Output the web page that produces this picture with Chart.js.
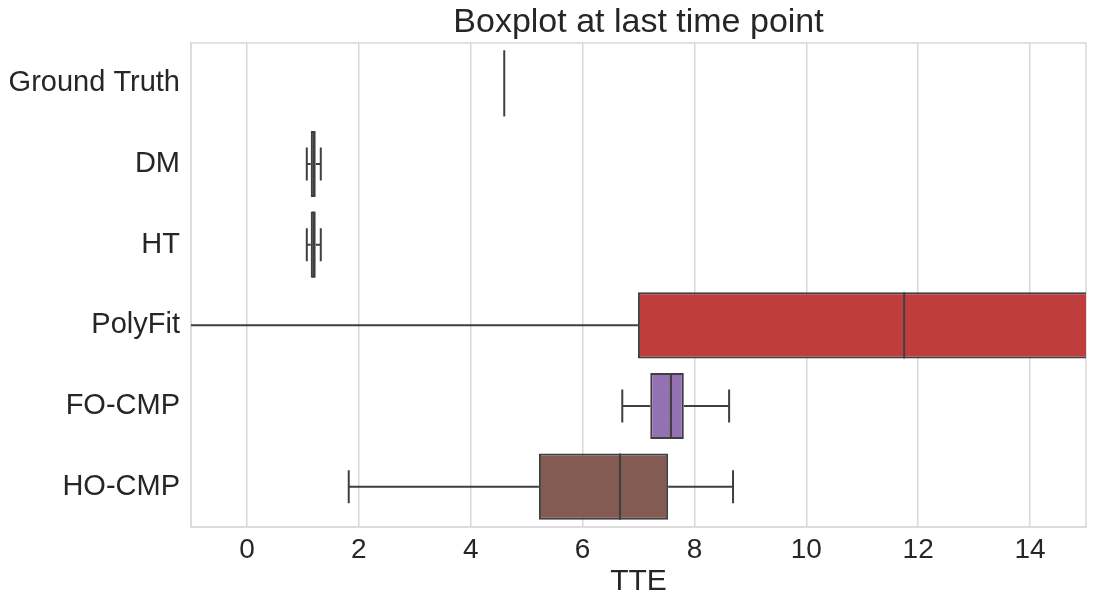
<!DOCTYPE html>
<html>
<head>
<meta charset="utf-8">
<title>Boxplot at last time point</title>
<script src="https://cdn.jsdelivr.net/npm/chart.js@4/dist/chart.umd.min.js"></script>
<style>
  body { margin: 0; background: #fff; }
</style>
</head>
<body>
<canvas id="boxChart" width="1096" height="600"></canvas>
<script>
// values
const categories = ['Ground Truth', 'DM', 'HT', 'PolyFit', 'FO-CMP', 'HO-CMP'];
const whiskerLow = [4.6, 1.07, 1.07, -3.0, 6.71, 1.82];
const q1 = [4.6, 1.14, 1.14, 6.99, 7.21, 5.22];
const median = [4.6, 1.19, 1.19, 11.75, 7.58, 6.67];
const q3 = [4.6, 1.23, 1.23, 17.5, 7.81, 7.53];
const whiskerHigh = [4.6, 1.32, 1.32, 24.0, 8.62, 8.69];
const xTicks = [0, 2, 4, 6, 8, 10, 12, 14];
const boxColors = ['#3e75a6', '#4a4a4a', '#4a4a4a', '#c03d3e', '#9472b2', '#845b53'];

const lineColor = '#3f3f3f';
const gridColor = '#d9d9d9';
const fontFamily = '"Liberation Sans", Arial, Helvetica, sans-serif';

// whiskers, caps and medians drawn from the same scales as the boxes
const whiskerPlugin = {
  id: 'whiskers',
  afterDatasetsDraw(chart) {
    const { ctx, chartArea, scales } = chart;
    const x = scales.x, y = scales.y;
    const bars = chart.getDatasetMeta(0).data;
    ctx.save();
    ctx.beginPath();
    ctx.rect(chartArea.left, chartArea.top, chartArea.right - chartArea.left, chartArea.bottom - chartArea.top);
    ctx.clip();
    ctx.strokeStyle = lineColor;
    ctx.lineWidth = 2;
    categories.forEach((c, i) => {
      const cy = y.getPixelForValue(i);
      const h = bars[i].height;
      const px = v => x.getPixelForValue(v);
      ctx.beginPath();
      ctx.moveTo(px(whiskerLow[i]), cy);
      ctx.lineTo(px(q1[i]), cy);
      ctx.moveTo(px(q3[i]), cy);
      ctx.lineTo(px(whiskerHigh[i]), cy);
      if (whiskerLow[i] !== whiskerHigh[i]) {
        ctx.moveTo(px(whiskerLow[i]), cy - h / 4);
        ctx.lineTo(px(whiskerLow[i]), cy + h / 4);
        ctx.moveTo(px(whiskerHigh[i]), cy - h / 4);
        ctx.lineTo(px(whiskerHigh[i]), cy + h / 4);
      }
      ctx.moveTo(px(median[i]), cy - h / 2);
      ctx.lineTo(px(median[i]), cy + h / 2);
      ctx.stroke();
    });
    ctx.restore();
  }
};

// light frame round the plot area, like the seaborn axes
const framePlugin = {
  id: 'frame',
  beforeDatasetsDraw(chart) {
    const { ctx, chartArea } = chart;
    ctx.save();
    ctx.strokeStyle = gridColor;
    ctx.lineWidth = 1.5;
    ctx.strokeRect(chartArea.left, chartArea.top, chartArea.right - chartArea.left, chartArea.bottom - chartArea.top);
    ctx.restore();
  }
};

const ctx = document.getElementById('boxChart').getContext('2d');
new Chart(ctx, {
  type: 'bar',
  data: {
    labels: categories,
    datasets: [{
      label: 'IQR',
      data: categories.map((c, i) => [q1[i], q3[i]]),
      backgroundColor: boxColors,
      borderColor: lineColor,
      borderWidth: 2,
      borderSkipped: false,
      barPercentage: 0.82,
      categoryPercentage: 1
    }]
  },
  options: {
    indexAxis: 'y',
    responsive: false,
    animation: false,
    layout: { padding: { left: 0, right: 10, top: 0, bottom: 0 } },
    plugins: {
      legend: { display: false },
      tooltip: { enabled: false },
      title: {
        display: true,
        fullSize: false,
        text: 'Boxplot at last time point',
        color: '#262626',
        font: { family: fontFamily, size: 34, weight: 'normal' },
        padding: { top: 2, bottom: 0.2 }
      }
    },
    scales: {
      x: {
        type: 'linear',
        min: -1,
        max: 15,
        afterBuildTicks: scale => { scale.ticks = xTicks.map(v => ({ value: v })); },
        afterFit: scale => { scale.height = 73; },
        grid: { color: gridColor, lineWidth: 1.5, drawTicks: false },
        border: { color: gridColor, width: 1.5 },
        ticks: {
          color: '#262626',
          padding: 6,
          font: { family: fontFamily, size: 28 }
        },
        title: {
          display: true,
          text: 'TTE',
          color: '#262626',
          font: { family: fontFamily, size: 30 },
          padding: { top: 0, bottom: 0 }
        }
      },
      y: {
        type: 'category',
        afterFit: scale => { scale.width = 191; },
        grid: { display: false, drawTicks: false },
        border: { color: gridColor, width: 1.5 },
        ticks: {
          color: '#262626',
          padding: 11,
          font: { family: fontFamily, size: 29 }
        }
      }
    }
  },
  plugins: [framePlugin, whiskerPlugin]
});
</script>
</body>
</html>
